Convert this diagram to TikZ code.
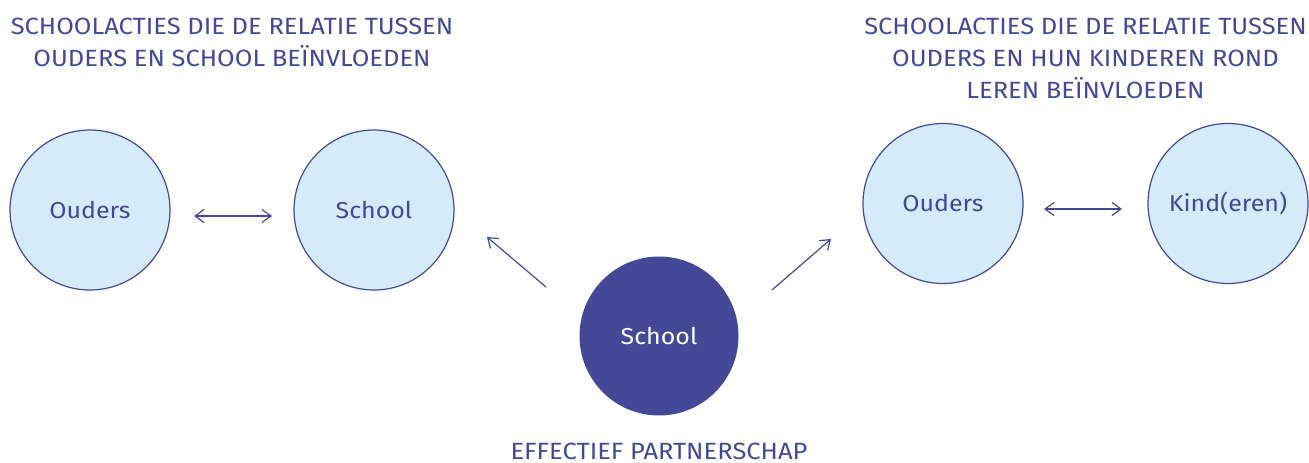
\documentclass[tikz,border=0pt]{standalone}
\usepackage{fontspec}
\setmainfont{Fira Sans}[FakeStretch=1.085]
\usetikzlibrary{arrows.meta}
\definecolor{indigo}{HTML}{444897}
\definecolor{paleblue}{HTML}{D5EBFA}
\tikzset{
  bubble/.style={circle, draw=indigo, fill=paleblue, line width=1.2pt, minimum size=160pt, inner sep=0pt, text=indigo, font=\fontsize{23}{26}\selectfont},
  core/.style={circle, fill=indigo, minimum size=159pt, inner sep=0pt, text=white, font=\fontsize{23}{26}\selectfont},
  title/.style={align=center, text=indigo, font=\fontsize{23.5}{32}\selectfont, inner sep=0pt},
  link/.style={draw=indigo, line width=1.2pt, {Straight Barb[length=9pt,width=13pt]}-{Straight Barb[length=9pt,width=13pt]}},
  push/.style={draw=indigo, line width=1.2pt, -{Straight Barb[length=9pt,width=13pt]}}
}
\begin{document}
\begin{tikzpicture}[x=1pt,y=-1pt]
\useasboundingbox (0,0) rectangle (1309,463);
\node[title, anchor=north] (t1) at (232,18) {SCHOOLACTIES DIE DE RELATIE TUSSEN\\OUDERS EN SCHOOL BEÏNVLOEDEN};
\node[title, anchor=north] (t2) at (1085.5,18) {SCHOOLACTIES DIE DE RELATIE TUSSEN\\OUDERS EN HUN KINDEREN ROND\\LEREN BEÏNVLOEDEN};
\node[title, anchor=base] (t3) at (659,459) {EFFECTIEF PARTNERSCHAP};

\node[bubble] (o1) at (90,210) {Ouders};
\node[bubble] (s1) at (374,210) {School};
\node[bubble] (o2) at (943,203.5) {Ouders};
\node[bubble] (k2) at (1228,203.5) {Kind(eren)};
\node[core] (c) at (659,336) {School};

\coordinate (p1) at (194,216);
\coordinate (p2) at (272,216);
\coordinate (q1) at (1044,209);
\coordinate (q2) at (1122,209);
\coordinate (l1) at (546,287);
\coordinate (l2) at (487,237);
\coordinate (r1) at (772,290);
\coordinate (r2) at (831,239);

\draw[link] (p1) -- (p2);
\draw[link] (q1) -- (q2);
\draw[push] (l1) -- (l2);
\draw[push] (r1) -- (r2);
\end{tikzpicture}
\end{document}
